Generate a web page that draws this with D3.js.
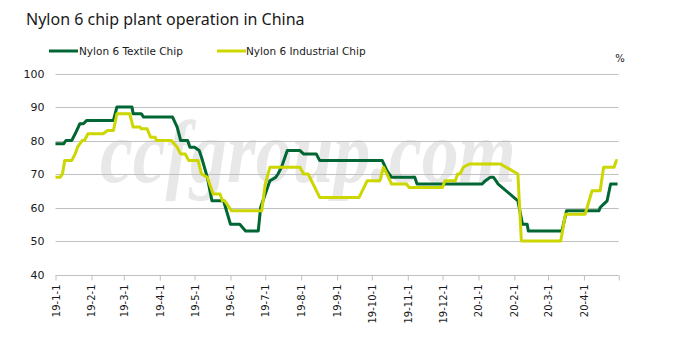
<!DOCTYPE html>
<html>
<head>
<meta charset="utf-8">
<script src="https://cdn.jsdelivr.net/npm/d3@7"></script>
<style>
  html, body { margin: 0; padding: 0; background: #fff; }
  svg { display: block; }
</style>
</head>
<body>
<svg id="chart" width="674" height="352"></svg>
<script>
const title = "Nylon 6 chip plant operation in China";
const seriesNames = ["Nylon 6 Textile Chip", "Nylon 6 Industrial Chip"];
const seriesColors = ["#006633", "#CCD600"];
const yTicks = [40, 50, 60, 70, 80, 90, 100];
const unitLabel = "%";
const watermark = "ccfgroup.com";

const textileDates = ["2019-01-01","2019-01-08","2019-01-10","2019-01-15","2019-01-18","2019-01-22","2019-01-25","2019-01-28","2019-02-20","2019-02-23","2019-03-08","2019-03-09","2019-03-16","2019-03-18","2019-04-12","2019-04-16","2019-04-19","2019-04-25","2019-04-27","2019-05-01","2019-05-05","2019-05-07","2019-05-12","2019-05-16","2019-05-26","2019-06-01","2019-06-09","2019-06-14","2019-06-25","2019-06-27","2019-07-05","2019-07-10","2019-07-12","2019-07-15","2019-07-20","2019-07-31","2019-08-03","2019-08-14","2019-08-17","2019-10-10","2019-10-14","2019-10-18","2019-11-07","2019-11-09","2020-01-04","2020-01-07","2020-01-11","2020-01-14","2020-01-16","2020-01-18","2020-02-04","2020-02-08","2020-02-12","2020-02-13","2020-03-13","2020-03-17","2020-04-14","2020-04-15","2020-04-18","2020-04-21","2020-04-24","2020-04-30"];
const textileValues = [79,79,80,80,82,85,85,86,86,90,90,88,88,87,87,84,80,80,78,78,77,75,69,62,62,55,55,53,53,60,68,69,70,72,77,77,76,76,74,74,71,69,69,67,67,68,69,69,68,67,62,55,55,53,53,59,59,60,61,62,67,67];

const industrialDates = ["2019-01-01","2019-01-05","2019-01-07","2019-01-09","2019-01-15","2019-01-18","2019-01-20","2019-01-24","2019-01-26","2019-01-29","2019-02-11","2019-02-15","2019-02-20","2019-02-23","2019-03-06","2019-03-09","2019-03-15","2019-03-16","2019-03-21","2019-03-24","2019-03-28","2019-03-29","2019-04-11","2019-04-16","2019-04-19","2019-04-23","2019-04-26","2019-05-04","2019-05-07","2019-05-12","2019-05-17","2019-05-23","2019-05-25","2019-05-27","2019-06-02","2019-06-28","2019-07-01","2019-07-05","2019-07-31","2019-08-03","2019-08-07","2019-08-17","2019-09-20","2019-09-27","2019-10-08","2019-10-11","2019-10-14","2019-10-18","2019-10-31","2019-11-02","2019-12-01","2019-12-03","2019-12-12","2019-12-14","2019-12-16","2019-12-19","2019-12-24","2020-01-20","2020-02-04","2020-02-07","2020-03-12","2020-03-16","2020-04-02","2020-04-08","2020-04-15","2020-04-18","2020-04-27","2020-04-29","2020-04-30"];
const industrialValues = [69,69,70,74,74,76,78,80,80,82,82,83,83,88,88,84,84,83.5,83.5,81,81,80,80,78,76,76,74,74,70,69,64,64,62,62,59,59,67,72,72,70,70,63,63,68,68,72,70,67,67,66,66,68,68,70,70,72,73,73,70,50,50,58,58,65,65,72,72,74,74];

const xStart = "2019-01-01", xEnd = "2020-05-01";
const tickStart = "2019-01-01", tickLast = "2020-04-01";

const parse = d3.timeParse("%Y-%m-%d");
const fmt = d => `${d.getFullYear() % 100}-${d.getMonth() + 1}-${d.getDate()}`;

const svg = d3.select("#chart");
const plot = { left: 55.5, right: 618.7, top: 73.5, bottom: 274.5 };

const x = d3.scaleTime().domain([parse(xStart), parse(xEnd)]).range([plot.left, plot.right]);
const y = d3.scaleLinear().domain([40, 100]).range([plot.bottom, plot.top]);

// Title
svg.append("text").attr("x", 26).attr("y", 25)
  .attr("font-family", "Noto Sans, Open Sans, sans-serif").attr("font-size", 16)
  .attr("fill", "#1a1a1a").text(title);

// Legend
const legendPos = [{lx: 49, tx: 79}, {lx: 217, tx: 246}];
seriesNames.forEach((name, i) => {
  const g = svg.append("g");
  g.append("line").attr("x1", legendPos[i].lx).attr("x2", legendPos[i].lx + 29)
    .attr("y1", 51).attr("y2", 51).attr("stroke", seriesColors[i]).attr("stroke-width", 3);
  g.append("text").attr("x", legendPos[i].tx).attr("y", 55)
    .attr("font-family", "DejaVu Sans, sans-serif").attr("font-size", 10.5)
    .attr("fill", "#1a1a1a").text(name);
});

// Watermark
svg.append("text").attr("x", 100).attr("y", 182)
  .attr("font-family", "Liberation Serif, serif").attr("font-style", "italic")
  .attr("font-weight", "bold")
  .attr("font-size", 88).attr("fill", "#e8e8e8")
  .attr("textLength", 416).attr("lengthAdjust", "spacingAndGlyphs")
  .text(watermark);

// Gridlines
svg.append("g").selectAll("line").data(yTicks.filter(t => t > 40)).join("line")
  .attr("x1", plot.left).attr("x2", plot.right)
  .attr("y1", d => Math.round(y(d)) + 0.5).attr("y2", d => Math.round(y(d)) + 0.5)
  .attr("stroke", "#c0c0c0").attr("stroke-width", 1);

// Y axis labels
const yAxis = d3.axisLeft(y).tickValues(yTicks).tickSize(0).tickPadding(0).tickFormat(d3.format("d"));
const yg = svg.append("g").attr("transform", `translate(${plot.left - 11},0)`).call(yAxis);
yg.select(".domain").remove();
yg.selectAll("text").attr("font-family", "DejaVu Sans, sans-serif").attr("font-size", 11).attr("fill", "#1a1a1a");

// X axis
const monthTicks = d3.timeMonth.range(parse(tickStart), d3.timeDay.offset(parse(xEnd), 1));
const tickLastDate = parse(tickLast);
const xAxis = d3.axisBottom(x).tickValues(monthTicks).tickSize(5).tickPadding(0)
  .tickFormat(d => d <= tickLastDate ? fmt(d) : "");
const xg = svg.append("g").attr("transform", `translate(0,${Math.round(plot.bottom) + 0.5})`).call(xAxis);
xg.select(".domain").attr("stroke", "#c0c0c0").attr("d", `M${plot.left},0H${plot.right}`);
xg.selectAll(".tick line").attr("stroke", "#c0c0c0");
xg.selectAll(".tick text")
  .attr("font-family", "DejaVu Sans, sans-serif").attr("font-size", 10).attr("fill", "#1a1a1a")
  .attr("text-anchor", "end").attr("dy", "0.35em")
  .attr("transform", "translate(0,9) rotate(-90)").attr("x", 0).attr("y", 0);

// % label
svg.append("text").attr("x", 620).attr("y", 62).attr("text-anchor", "middle")
  .attr("font-family", "DejaVu Sans, sans-serif").attr("font-size", 10).attr("fill", "#1a1a1a")
  .text(unitLabel);

// Lines
const line = d3.line().x(d => x(d.date)).y(d => y(d.value));
const series = [
  textileDates.map((d, i) => ({date: parse(d), value: textileValues[i]})),
  industrialDates.map((d, i) => ({date: parse(d), value: industrialValues[i]}))
];
series.forEach((data, i) => {
  svg.append("path").datum(data).attr("d", line)
    .attr("fill", "none").attr("stroke", seriesColors[i]).attr("stroke-width", 3)
    .attr("stroke-linejoin", "round").attr("stroke-linecap", "butt");
});
</script>
</body>
</html>
